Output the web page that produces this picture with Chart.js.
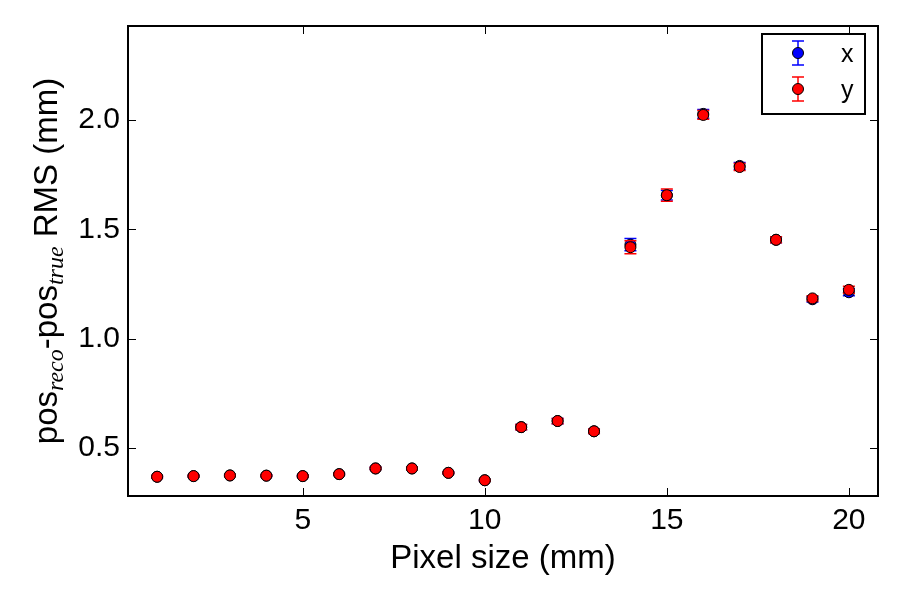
<!DOCTYPE html>
<html>
<head>
<meta charset="utf-8">
<script src="https://cdn.jsdelivr.net/npm/chart.js@4"></script>
<style>
  html, body { margin: 0; background: #fff; }
  #wrap { width: 900px; height: 600px; }
</style>
</head>
<body>
<div id="wrap"><canvas id="chart"></canvas></div>
<script>
// pixel size (mm)
const pixelSize = [1, 2, 3, 4, 5, 6, 7, 8, 9, 10, 11, 12, 13, 14, 15, 16, 17, 18, 19, 20];
// RMS of pos_reco - pos_true, x coordinate
const rmsX = [0.368, 0.371, 0.374, 0.373, 0.371, 0.380, 0.406, 0.406, 0.386, 0.352,
              0.595, 0.623, 0.576, 1.430, 1.656, 2.028, 1.790, 1.452, 1.180, 1.212];
const errX = [0.004, 0.004, 0.004, 0.004, 0.004, 0.004, 0.005, 0.005, 0.004, 0.004,
              0.012, 0.012, 0.010, 0.028, 0.022, 0.020, 0.016, 0.014, 0.012, 0.016];
// same, y coordinate
const rmsY = [0.368, 0.371, 0.374, 0.373, 0.371, 0.380, 0.406, 0.406, 0.386, 0.352,
              0.595, 0.623, 0.576, 1.418, 1.656, 2.023, 1.785, 1.452, 1.184, 1.223];
const errY = [0.004, 0.004, 0.004, 0.004, 0.004, 0.004, 0.005, 0.005, 0.004, 0.004,
              0.012, 0.012, 0.010, 0.030, 0.028, 0.020, 0.016, 0.014, 0.012, 0.016];
const xTicks = [5, 10, 15, 20];
const yTicks = [0.5, 1.0, 1.5, 2.0];
const seriesLabels = ["x", "y"];

const mainFont = '33px "Liberation Sans", Arial, sans-serif';
const subFont = 'italic 24px "Liberation Serif", serif';

// vertical error bars with caps, drawn just before each dataset's markers
const errorBars = {
  id: "errorBars",
  beforeDatasetDraw(chart, args) {
    const ds = chart.data.datasets[args.index];
    const xs = chart.scales.x, ys = chart.scales.y;
    const ctx = chart.ctx;
    ctx.save();
    ctx.strokeStyle = ds.backgroundColor;
    ctx.lineWidth = 1.5;
    ds.data.forEach((p, i) => {
      const px = xs.getPixelForValue(p.x);
      const top = ys.getPixelForValue(p.y + ds.errors[i]);
      const bot = ys.getPixelForValue(p.y - ds.errors[i]);
      ctx.beginPath();
      ctx.moveTo(px, top); ctx.lineTo(px, bot);
      ctx.moveTo(px - 6, top); ctx.lineTo(px + 6, top);
      ctx.moveTo(px - 6, bot); ctx.lineTo(px + 6, bot);
      ctx.stroke();
    });
    ctx.restore();
  }
};

// frame with inward ticks on all four sides, y title with subscripts, legend
const decorations = {
  id: "decorations",
  afterDraw(chart) {
    const ctx = chart.ctx;
    const a = chart.chartArea;
    const xs = chart.scales.x, ys = chart.scales.y;
    ctx.save();
    ctx.strokeStyle = "#000";
    ctx.lineWidth = 1;
    ctx.beginPath();
    xTicks.forEach(v => {
      const px = Math.round(xs.getPixelForValue(v)) + 0.5;
      ctx.moveTo(px, a.bottom); ctx.lineTo(px, a.bottom - 8);
      ctx.moveTo(px, a.top); ctx.lineTo(px, a.top + 8);
    });
    yTicks.forEach(v => {
      const py = Math.round(ys.getPixelForValue(v)) + 0.5;
      ctx.moveTo(a.left, py); ctx.lineTo(a.left + 8, py);
      ctx.moveTo(a.right, py); ctx.lineTo(a.right - 8, py);
    });
    ctx.stroke();
    ctx.lineWidth = 2;
    ctx.strokeRect(a.left, a.top, a.right - a.left, a.bottom - a.top);

    // y axis title: pos_reco-pos_true RMS (mm)
    const parts = [
      { t: "pos", f: mainFont, dy: 0 },
      { t: "reco", f: subFont, dy: 6 },
      { t: "-pos", f: mainFont, dy: 0 },
      { t: "true", f: subFont, dy: 6 },
      { t: " RMS (mm)", f: mainFont, dy: 0 }
    ];
    let total = 0;
    parts.forEach(p => { ctx.font = p.f; p.w = ctx.measureText(p.t).width; total += p.w; });
    ctx.translate(57, (a.top + a.bottom) / 2);
    ctx.rotate(-Math.PI / 2);
    ctx.fillStyle = "#000";
    ctx.textBaseline = "alphabetic";
    ctx.textAlign = "left";
    let cx = -total / 2;
    parts.forEach(p => {
      ctx.font = p.f;
      ctx.fillText(p.t, cx, p.dy);
      cx += p.w;
    });
    ctx.setTransform(1, 0, 0, 1, 0, 0);

    // legend
    const lx = 762, ly = 34, lw = 103, lh = 80;
    ctx.fillStyle = "#fff";
    ctx.fillRect(lx, ly, lw, lh);
    ctx.lineWidth = 2;
    ctx.strokeStyle = "#000";
    ctx.strokeRect(lx, ly, lw, lh);
    chart.data.datasets.forEach((ds, i) => {
      const mx = 798, my = 53 + i * 36;
      ctx.strokeStyle = ds.backgroundColor;
      ctx.lineWidth = 1.5;
      ctx.beginPath();
      ctx.moveTo(mx, my - 12); ctx.lineTo(mx, my + 12);
      ctx.moveTo(mx - 6, my - 12); ctx.lineTo(mx + 6, my - 12);
      ctx.moveTo(mx - 6, my + 12); ctx.lineTo(mx + 6, my + 12);
      ctx.stroke();
      ctx.beginPath();
      ctx.arc(mx, my, 5.5, 0, Math.PI * 2);
      ctx.fillStyle = ds.backgroundColor;
      ctx.fill();
      ctx.strokeStyle = "#000";
      ctx.lineWidth = 1;
      ctx.stroke();
      ctx.fillStyle = "#000";
      ctx.font = '25px "Liberation Sans", Arial, sans-serif';
      ctx.fillText(ds.label, 841, my + 9);
    });
    ctx.restore();
  }
};

new Chart("chart", {
  type: "scatter",
  data: {
    datasets: [
      {
        label: seriesLabels[0],
        data: pixelSize.map((v, i) => ({ x: v, y: rmsX[i] })),
        errors: errX,
        order: 1,
        backgroundColor: "#0000ff",
        borderColor: "#000",
        borderWidth: 1,
        pointRadius: 5.5,
        pointHoverRadius: 5.5
      },
      {
        label: seriesLabels[1],
        data: pixelSize.map((v, i) => ({ x: v, y: rmsY[i] })),
        errors: errY,
        order: 0,
        backgroundColor: "#ff0000",
        borderColor: "#000",
        borderWidth: 1,
        pointRadius: 5.5,
        pointHoverRadius: 5.5
      }
    ]
  },
  options: {
    responsive: true,
    maintainAspectRatio: false,
    animation: false,
    layout: { padding: { top: 23, right: 22, left: 0, bottom: 0 } },
    plugins: { legend: { display: false }, tooltip: { enabled: false } },
    scales: {
      x: {
        type: "linear",
        min: 0.2,
        max: 20.8,
        afterBuildTicks: (s) => { s.ticks = xTicks.map(v => ({ value: v })); },
        afterFit: (s) => { s.height = 104; },
        grid: { display: false, drawTicks: false },
        border: { display: false },
        ticks: {
          color: "#000",
          padding: 7,
          maxRotation: 0,
          font: { family: "'Liberation Sans', Arial, sans-serif", size: 30 },
          callback: (v) => String(v)
        },
        title: {
          display: true,
          text: "Pixel size (mm)",
          color: "#000",
          padding: { top: 0, bottom: 21 },
          font: { family: "'Liberation Sans', Arial, sans-serif", size: 33 }
        }
      },
      y: {
        type: "linear",
        min: 0.28,
        max: 2.43,
        afterBuildTicks: (s) => { s.ticks = yTicks.map(v => ({ value: v })); },
        afterFit: (s) => { s.width = 128; },
        grid: { display: false, drawTicks: false },
        border: { display: false },
        ticks: {
          color: "#000",
          padding: 8,
          font: { family: "'Liberation Sans', Arial, sans-serif", size: 30 },
          callback: (v) => v.toFixed(1)
        }
      }
    }
  },
  plugins: [errorBars, decorations]
});
</script>
</body>
</html>
